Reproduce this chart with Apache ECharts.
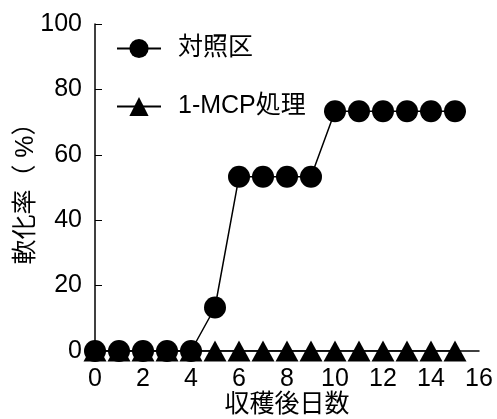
<!DOCTYPE html>
<html>
<head>
<meta charset="utf-8">
<script src="https://cdn.jsdelivr.net/npm/echarts@6/dist/echarts.min.js"></script>
<style>html,body{margin:0;padding:0;background:#fff}#c{width:497px;height:419px}</style>
</head>
<body>
<div id="c"></div>
<script>
const days = [0,1,2,3,4,5,6,7,8,9,10,11,12,13,14,15];
const controlValues = [0,0,0,0,0,13.3,53.3,53.3,53.3,53.3,73.3,73.3,73.3,73.3,73.3,73.3];
const mcpValues = [0,0,0,0,0,0,0,0,0,0,0,0,0,0,0,0];
const seriesNames = ['対照区','1-MCP処理'];
const xName = '収穫後日数';
const yName = '軟化率（ %）';

const FONT = '"Liberation Sans", Arial, "Noto Sans CJK JP", sans-serif';
const chart = echarts.init(document.getElementById('c'), null, {renderer:'canvas'});
chart.setOption({
  animation:false,
  backgroundColor:'#fff',
  textStyle:{fontFamily:FONT,color:'#000'},
  grid:{left:95,right:18,top:24,bottom:68,containLabel:false,outerBoundsMode:'none'},
  legend:{
    data:[seriesNames[0],seriesNames[1]],
    orient:'vertical',left:111,top:31,itemWidth:44,itemHeight:24,itemGap:33,
    textStyle:{fontSize:25,fontFamily:FONT,color:'#000',padding:[0,0,0,12]},
    inactiveColor:'#000'
  },
  xAxis:{
    type:'value',min:0,max:16,interval:2,
    name:xName,nameLocation:'middle',nameGap:42,nameMoveOverlap:false,
    nameTextStyle:{fontSize:25,fontFamily:FONT,color:'#000'},
    axisLine:{lineStyle:{color:'#000',width:1.5}},
    axisTick:{show:false},
    splitLine:{show:false},
    axisLabel:{fontSize:25,color:'#000',fontFamily:FONT,margin:16}
  },
  yAxis:{
    type:'value',min:0,max:100,interval:20,
    name:yName,nameLocation:'middle',nameGap:56,nameRotate:90,nameMoveOverlap:false,
    nameTextStyle:{fontSize:25,fontFamily:FONT,color:'#000'},
    axisLine:{show:true,lineStyle:{color:'#000',width:1.5}},
    axisTick:{show:true,inside:true,length:7,lineStyle:{color:'#000',width:1}},
    splitLine:{show:false},
    axisLabel:{fontSize:25,color:'#000',fontFamily:FONT,margin:13}
  },
  series:[
    {name:seriesNames[1],type:'line',z:2,data:days.map((d,i)=>[d,mcpValues[i]]),
     symbol:'triangle',symbolSize:[23,21],
     itemStyle:{color:'#000'},lineStyle:{color:'#000',width:1.5}},
    {name:seriesNames[0],type:'line',z:3,data:days.map((d,i)=>[d,controlValues[i]]),
     symbol:'circle',symbolSize:22,
     itemStyle:{color:'#000'},lineStyle:{color:'#000',width:1.5}}
  ]
});
</script>
</body>
</html>
